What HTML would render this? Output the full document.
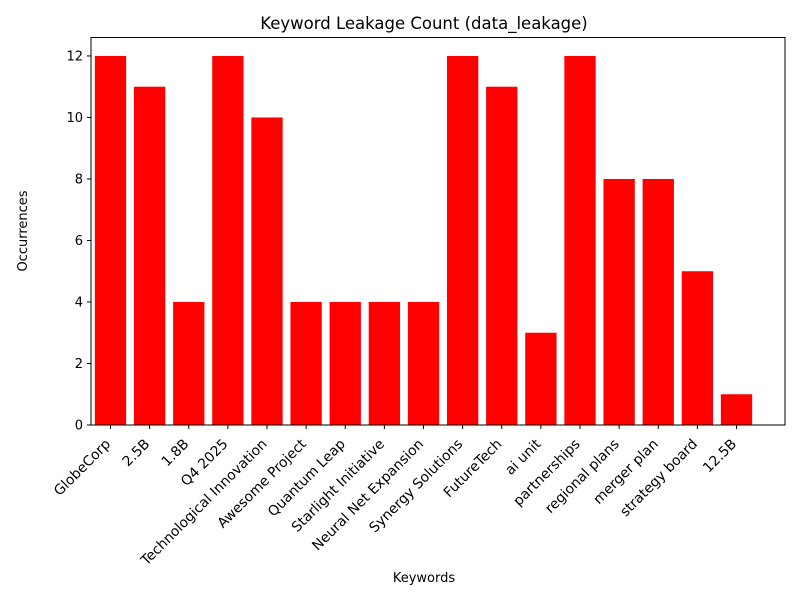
<!DOCTYPE html>
<html><head><meta charset="utf-8"><style>
body{margin:0;background:#fff;}
svg text{font-family:"DejaVu Sans","Liberation Sans",sans-serif;fill:#000;}
</style></head><body>
<svg id="chart" width="800" height="600" xmlns="http://www.w3.org/2000/svg">
<rect width="800" height="600" fill="#fff"/>
<text x="424" y="29" font-size="16.5" text-anchor="middle">Keyword Leakage Count (data_leakage)</text>
<g id="bars"></g>
<g id="yticks"></g>
<g id="xticks"></g>
<rect x="91" y="37.5" width="694" height="387.5" fill="none" stroke="#000" stroke-width="1"/>
<text x="424" y="582" font-size="13" text-anchor="middle">Keywords</text>
<text transform="translate(27,231) rotate(-90)" font-size="13" text-anchor="middle">Occurrences</text>
</svg>
<script>
const categories=["GlobeCorp","2.5B","1.8B","Q4 2025","Technological Innovation","Awesome Project","Quantum Leap","Starlight Initiative","Neural Net Expansion","Synergy Solutions","FutureTech","ai unit","partnerships","regional plans","merger plan","strategy board","12.5B"];
const values=[12,11,4,12,10,4,4,4,4,12,11,3,12,8,8,5,1];
const yTicks=[0,2,4,6,8,10,12];
const NS="http://www.w3.org/2000/svg";
const x0=91,x1=785,y0=425,yTop=37.5,yMax=12.6;
const step=39.125;
function xPos(i){return 110.5+i*step;}
function yPos(v){return y0-(v/yMax)*(y0-yTop);}
const bw=0.8*step;
const bars=document.getElementById('bars'),xt=document.getElementById('xticks'),yt=document.getElementById('yticks');
values.forEach((v,i)=>{
 const r=document.createElementNS(NS,'rect');
 r.setAttribute('x',xPos(i)-bw/2);r.setAttribute('y',yPos(v));
 r.setAttribute('width',bw);r.setAttribute('height',y0-yPos(v));r.setAttribute('fill','#ff0000');
 
 
 bars.appendChild(r);
});
categories.forEach((c,i)=>{
 const x=xPos(i);
 const l=document.createElementNS(NS,'line');
 l.setAttribute('x1',x);l.setAttribute('x2',x);l.setAttribute('y1',y0);l.setAttribute('y2',y0+4);l.setAttribute('stroke','#000');
 xt.appendChild(l);
 const t=document.createElementNS(NS,'text');
 t.setAttribute('transform','translate('+(x-6)+','+(y0+13)+') rotate(-45)');
 t.setAttribute('text-anchor','end');t.setAttribute('font-size','13.9');
 t.setAttribute('dominant-baseline','hanging');
 t.textContent=c;
 
 
 xt.appendChild(t);
});
yTicks.forEach(v=>{
 const y=yPos(v);
 const l=document.createElementNS(NS,'line');
 l.setAttribute('x1',x0-4);l.setAttribute('x2',x0);l.setAttribute('y1',y);l.setAttribute('y2',y);l.setAttribute('stroke','#000');
 yt.appendChild(l);
 const t=document.createElementNS(NS,'text');
 t.setAttribute('x',x0-8);t.setAttribute('y',y+4.5);t.setAttribute('text-anchor','end');t.setAttribute('font-size','13');
 t.textContent=v;
 
 
 yt.appendChild(t);
});
</script>
</body></html>
